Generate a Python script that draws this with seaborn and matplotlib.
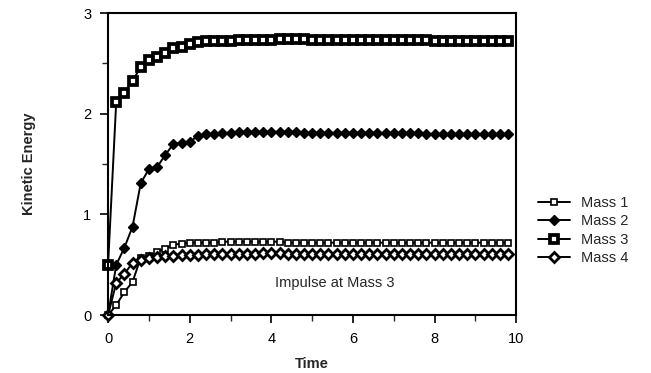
import matplotlib
matplotlib.use("Agg")
import matplotlib.pyplot as plt
import numpy as np
import pandas as pd
import seaborn as sns

sns.set_style("ticks")
plt.rcParams["font.family"] = ["Liberation Sans", "DejaVu Sans"]

# ── Data ──
time = np.round(np.arange(0, 9.81, 0.2), 1)

mass1 = [0.00, 0.10, 0.23, 0.33, 0.57, 0.59, 0.63, 0.66, 0.70, 0.71, 0.72, 0.72, 0.72,
         0.72, 0.73, 0.73, 0.73, 0.73, 0.73, 0.73, 0.73, 0.73, 0.72, 0.72, 0.72, 0.72,
         0.72, 0.72, 0.72, 0.72, 0.72, 0.72, 0.72, 0.72, 0.72, 0.72, 0.72, 0.72, 0.72,
         0.72, 0.72, 0.72, 0.72, 0.72, 0.72, 0.72, 0.72, 0.72, 0.72, 0.72]
mass2 = [0.00, 0.50, 0.67, 0.88, 1.31, 1.45, 1.47, 1.59, 1.70, 1.71, 1.72, 1.78, 1.80,
         1.80, 1.81, 1.81, 1.82, 1.82, 1.82, 1.82, 1.82, 1.82, 1.82, 1.82, 1.81, 1.81,
         1.81, 1.81, 1.81, 1.81, 1.81, 1.81, 1.81, 1.81, 1.81, 1.81, 1.81, 1.81, 1.81,
         1.80, 1.80, 1.80, 1.80, 1.80, 1.80, 1.80, 1.80, 1.80, 1.80, 1.80]
mass3 = [0.50, 2.12, 2.21, 2.33, 2.46, 2.53, 2.56, 2.60, 2.65, 2.66, 2.69, 2.71, 2.72,
         2.72, 2.72, 2.72, 2.73, 2.73, 2.73, 2.73, 2.73, 2.74, 2.74, 2.74, 2.74, 2.73,
         2.73, 2.73, 2.73, 2.73, 2.73, 2.73, 2.73, 2.73, 2.73, 2.73, 2.73, 2.73, 2.73,
         2.73, 2.72, 2.72, 2.72, 2.72, 2.72, 2.72, 2.72, 2.72, 2.72, 2.72]
mass4 = [0.00, 0.32, 0.41, 0.52, 0.55, 0.57, 0.58, 0.59, 0.59, 0.60, 0.60, 0.60, 0.61,
         0.61, 0.61, 0.61, 0.61, 0.61, 0.61, 0.62, 0.62, 0.62, 0.61, 0.61, 0.61, 0.61,
         0.61, 0.61, 0.61, 0.61, 0.61, 0.61, 0.61, 0.61, 0.61, 0.61, 0.61, 0.61, 0.61,
         0.61, 0.61, 0.61, 0.61, 0.61, 0.61, 0.61, 0.61, 0.61, 0.61, 0.61]

labels = ["Mass 1", "Mass 2", "Mass 3", "Mass 4"]
series = [mass1, mass2, mass3, mass4]

styles = {
    "Mass 1": dict(marker="s", markersize=5, markerfacecolor="white", markeredgewidth=1.2),
    "Mass 2": dict(marker="D", markersize=5, markerfacecolor="black", markeredgewidth=1.0),
    "Mass 3": dict(marker="s", markersize=5.5, markerfacecolor="white", markeredgewidth=2.7),
    "Mass 4": dict(marker="D", markersize=5, markerfacecolor="white", markeredgewidth=2.0),
}

fig = plt.figure(figsize=(6.51, 3.73), dpi=100)
ax = fig.add_axes([0.166, 0.155, 0.627, 0.81])

for name, vals in zip(labels, series):
    df = pd.DataFrame({"Time": time, "KE": vals})
    sns.lineplot(data=df, x="Time", y="KE", ax=ax, color="black", linewidth=1.4,
                 markeredgecolor="black", label=name, clip_on=False, **styles[name])

ax.set_xlim(0, 10)
ax.set_ylim(0, 3)
ax.set_xticks([0, 2, 4, 6, 8, 10])
ax.set_xticks([1, 3, 5, 7, 9], minor=True)
ax.set_yticks([0, 1, 2, 3])
ax.set_yticks([0.5, 1.5, 2.5], minor=True)
ax.tick_params(axis="both", which="major", length=6, width=1.2, labelsize=10.5,
               colors="black", pad=6)
ax.tick_params(axis="both", which="minor", length=4, width=1.0)
for sp in ax.spines.values():
    sp.set_linewidth(1.5)
    sp.set_color("black")

ax.set_xlabel("Time", fontsize=10.5, fontweight="bold", labelpad=8)
ax.set_ylabel("Kinetic Energy", fontsize=10.5, fontweight="bold", labelpad=34)

ax.text(4.1, 0.32, "Impulse at Mass 3", fontsize=10.5, va="center", ha="left")

ax.legend(loc="center left", bbox_to_anchor=(1.02, 0.28), frameon=False,
          fontsize=10.5, handlelength=2.2, handletextpad=0.8, labelspacing=0.3)

fig.savefig("out.png", dpi=100)
